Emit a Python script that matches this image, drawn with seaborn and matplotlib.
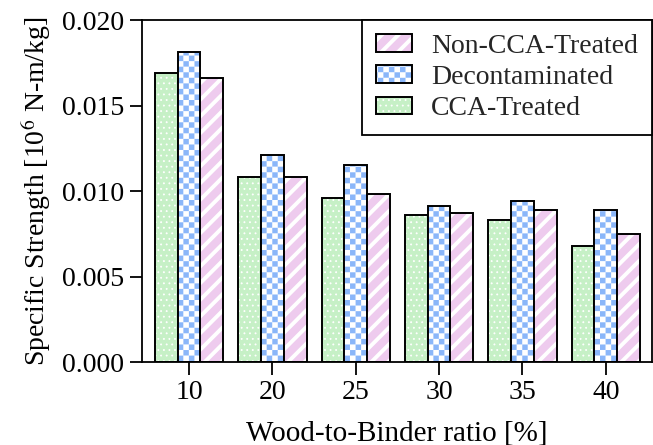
import warnings
warnings.filterwarnings("ignore")
import numpy as np
import pandas as pd
import matplotlib
matplotlib.use("Agg")
import matplotlib.pyplot as plt
import matplotlib.hatch as mhatch
from matplotlib.path import Path
import seaborn as sns

# ---- data ----
ratios = ["10", "20", "25", "30", "35", "40"]
series_names = ["CCA-Treated", "Decontaminated", "Non-CCA-Treated"]
cca_treated = [0.0169, 0.0108, 0.0096, 0.0086, 0.0083, 0.0068]
decontaminated = [0.0181, 0.0121, 0.0115, 0.0091, 0.0094, 0.0089]
non_cca_treated = [0.0166, 0.0108, 0.0098, 0.0087, 0.0089, 0.0075]
y_ticks = [0.000, 0.005, 0.010, 0.015, 0.020]

colors = ["#C6F0C6", "#8AB6F9", "#EECBEE"]
hatches = ["...", "#", "//"]
hatch_lw = [0.6, 0.05, 2.8]


# ---- custom checkerboard hatch ----
class CheckerHatch(mhatch.HatchPatternBase):
    def __init__(self, hatch, density):
        k = hatch.count('#')
        self.n = 18 * k if k else 0
        self.num_vertices = (self.n * self.n // 2) * 5 if self.n else 0

    def set_vertices_and_codes(self, vertices, codes):
        n = self.n
        s = 1.0 / n
        sq = np.array([[0, 0], [s, 0], [s, s], [0, s], [0, 0]], dtype=float)
        sc = [Path.MOVETO, Path.LINETO, Path.LINETO, Path.LINETO, Path.CLOSEPOLY]
        i = 0
        for r in range(n):
            for c in range(n):
                if (r + c) % 2 == 0:
                    vertices[i * 5:(i + 1) * 5] = sq + [c * s, r * s]
                    codes[i * 5:(i + 1) * 5] = sc
                    i += 1


mhatch._hatch_types.append(CheckerHatch)

df = pd.DataFrame({
    "ratio": ratios * 3,
    "series": sum([[n] * len(ratios) for n in series_names], []),
    "value": cca_treated + decontaminated + non_cca_treated,
})

sns.set_theme(style="ticks")
plt.rcParams['font.family'] = ['Liberation Serif', 'DejaVu Serif']
plt.rcParams['mathtext.fontset'] = 'stix'

fig = plt.figure(figsize=(6.53, 4.45), dpi=100)
ax = fig.add_axes([142 / 653, 1 - 362 / 445, 510 / 653, 342 / 445])

sns.barplot(data=df, x="ratio", y="value", hue="series", order=ratios,
            hue_order=series_names, palette=colors, width=0.82, gap=0,
            saturation=1, errorbar=None, ax=ax, legend=False)

white = matplotlib.colors.to_rgba("white")
for cont, h, lw in zip(ax.containers, hatches, hatch_lw):
    for p in cont.patches:
        p.set_edgecolor("black")
        p.set_linewidth(1.4)
        p.set_hatch(h)
        p._hatch_color = white
        if hasattr(p, "set_hatch_linewidth"):
            p.set_hatch_linewidth(lw)
        else:
            p._hatch_linewidth = lw

ax.set_xlim(-0.565, 5.555)
ax.set_ylim(0, 0.020)
ax.set_yticks(y_ticks)
ax.set_yticklabels([f"{v:.3f}" for v in y_ticks])

for s in ax.spines.values():
    s.set_visible(True)
    s.set_linewidth(1.3)
    s.set_color("black")

ax.tick_params(axis="both", direction="out", length=9, width=1.3,
               labelsize=20, color="black", labelcolor="black", pad=4)
ax.tick_params(top=False, right=False)

ax.set_xlabel("Wood-to-Binder ratio [%]", fontsize=21, color="black", labelpad=11)
ax.set_ylabel(r"Specific Strength [10$^6$ N-m/kg]", fontsize=20, color="black", labelpad=6)

handles = [ax.containers[i].patches[0] for i in [2, 1, 0]]
labels = [series_names[i] for i in [2, 1, 0]]
leg = ax.legend(handles, labels, loc="upper right", bbox_to_anchor=(1, 1),
                borderaxespad=0, frameon=True, fancybox=False, fontsize=20,
                handlelength=1.3, handleheight=0.6, handletextpad=0.7,
                labelspacing=0.22, borderpad=0.5)
leg.get_frame().set_edgecolor("black")
leg.get_frame().set_linewidth(1.3)
leg.get_frame().set_alpha(1)
for lp, src in zip(leg.get_patches(), handles):
    lp._hatch_color = white
    if hasattr(lp, "set_hatch_linewidth"):
        lp.set_hatch_linewidth(src.get_hatch_linewidth())

fig.savefig("out.png", dpi=100)
